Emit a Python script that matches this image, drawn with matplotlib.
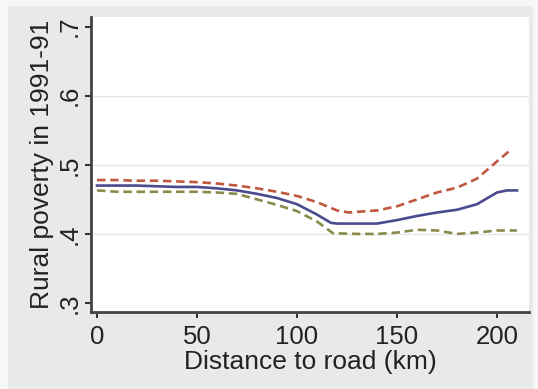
import matplotlib
matplotlib.use("Agg")
import matplotlib.pyplot as plt
from matplotlib.patches import Rectangle

plt.rcParams['font.family'] = ['Liberation Sans', 'DejaVu Sans']

# Distance to road (km) and smoothed rural poverty estimates
dist_mid = [0, 10, 20, 30, 40, 50, 60, 70, 80, 90, 100, 110, 117, 120, 130,
            140, 150, 160, 170, 180, 190, 200, 205, 210]
poverty_mid = [0.470, 0.470, 0.470, 0.469, 0.468, 0.468, 0.466, 0.463, 0.458,
               0.452, 0.443, 0.428, 0.416, 0.415, 0.415, 0.415, 0.420, 0.426,
               0.431, 0.435, 0.443, 0.460, 0.463, 0.463]

dist_hi = [0, 10, 20, 30, 40, 50, 60, 70, 80, 90, 100, 110, 120, 126, 130,
           140, 150, 160, 170, 180, 190, 200, 207]
poverty_hi = [0.478, 0.478, 0.477, 0.477, 0.476, 0.475, 0.473, 0.470, 0.466,
              0.461, 0.455, 0.446, 0.434, 0.431, 0.432, 0.434, 0.440, 0.450,
              0.460, 0.467, 0.480, 0.505, 0.522]

dist_lo = [0, 10, 20, 30, 40, 50, 60, 70, 80, 90, 100, 110, 118, 130, 140,
           150, 160, 170, 180, 190, 200, 210]
poverty_lo = [0.463, 0.461, 0.461, 0.461, 0.461, 0.461, 0.460, 0.458, 0.450,
              0.442, 0.433, 0.418, 0.401, 0.400, 0.400, 0.402, 0.406, 0.405,
              0.400, 0.402, 0.405, 0.405]

x_ticks = [0, 50, 100, 150, 200]
y_ticks = [0.3, 0.4, 0.5, 0.6, 0.7]
y_tick_labels = ['.3', '.4', '.5', '.6', '.7']

W, H = 538, 389
fig = plt.figure(figsize=(W / 100, H / 100), dpi=100, facecolor='#f7f7f7')
# grey graph region behind the plot
fig.add_artist(Rectangle((8 / W, 0), (533 - 8) / W, (H - 6) / H,
                         transform=fig.transFigure, facecolor='#e9e9e9',
                         edgecolor='none', zorder=-10))

ax = fig.add_axes([91 / W, (H - 312) / H, (529 - 91) / W, (312 - 17) / H])
ax.set_zorder(1)
ax.set_facecolor('white')

ax.plot(dist_hi, poverty_hi, color='#c0573f', lw=1.9, ls=(0, (3.2, 1.8)), zorder=3)
ax.plot(dist_lo, poverty_lo, color='#8a8a4c', lw=1.9, ls=(0, (3.2, 1.8)), zorder=3)
ax.plot(dist_mid, poverty_mid, color='#4a4a8e', lw=1.9, zorder=4)

ax.set_xlim(-3, 216)
ax.set_ylim(0.287, 0.714)

for yv in [0.4, 0.5, 0.6]:
    ax.axhline(yv, color='#e6e6e6', lw=1.0, zorder=1)

ax.set_xticks(x_ticks)
ax.set_yticks(y_ticks)
ax.set_yticklabels(y_tick_labels, rotation=90, va='center')

for side in ['top', 'right']:
    ax.spines[side].set_visible(False)
for side in ['left', 'bottom']:
    ax.spines[side].set_color('#444444')
    ax.spines[side].set_linewidth(2.0)

ax.tick_params(axis='both', direction='out', length=4, width=1.5,
               color='#333333', labelsize=18.5, labelcolor='#222222')
ax.tick_params(axis='x', pad=5)
ax.tick_params(axis='y', pad=3)

ax.set_xlabel('Distance to road (km)', fontsize=19, color='#222222', labelpad=1)
ax.set_ylabel('Rural poverty in 1991-91', fontsize=19, color='#222222', labelpad=2)

fig.savefig('out.png', dpi=100, facecolor=fig.get_facecolor())
